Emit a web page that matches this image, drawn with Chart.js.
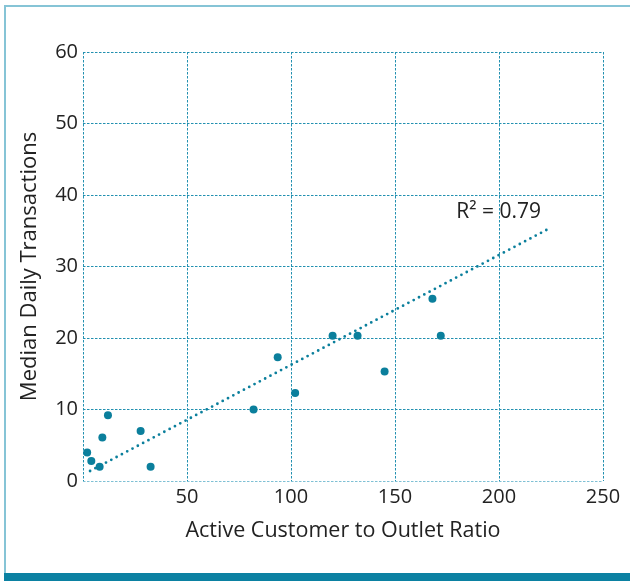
<!DOCTYPE html>
<html>
<head>
<meta charset="utf-8">
<script src="https://cdn.jsdelivr.net/npm/chart.js@4.4.1/dist/chart.umd.min.js"></script>
<style>
  html, body { margin: 0; padding: 0; background: #ffffff; }
  #wrap { width: 630px; height: 581px; position: relative; }
  canvas { display: block; }
</style>
</head>
<body>
<div id="wrap"><canvas id="c" width="630" height="581"></canvas></div>
<script>
// ---- data ----
const ratio        = [2, 4, 8, 9.3, 12, 27.7, 32.5, 82, 93.6, 102, 120, 132, 145, 168, 172];
const transactions = [4, 2.8, 2, 6.1, 9.2, 7, 2, 10, 17.3, 12.3, 20.3, 20.3, 15.3, 25.5, 20.3];
const trendX = [3.4, 224];
const trendY = [1.4, 35.3];
const r2Text = 'R\u00B2 = 0.79';
const r2Anchor = [179.5, 37.6];
const xTitle = 'Active Customer to Outlet Ratio';
const yTitle = 'Median Daily Transactions';
const xRange = [0, 250, 50];
const yRange = [0, 60, 10];

const teal = '#0b7f9c';
const gridColor = '#2290b0';
const fontFamily = '"Open Sans", "Noto Sans", sans-serif';
const textColor = '#222222';

const framePlugin = {
  id: 'frame',
  beforeDraw(chart) {
    const ctx = chart.ctx;
    ctx.save();
    ctx.fillStyle = '#ffffff';
    ctx.fillRect(0, 0, chart.width, chart.height);
    ctx.fillStyle = '#86c4d6';
    ctx.fillRect(4, 5, 2, chart.height - 13);
    ctx.fillRect(4, 5, chart.width - 4, 2);
    ctx.fillStyle = '#0b81a2';
    ctx.fillRect(4, chart.height - 8, chart.width - 4, 8);
    ctx.restore();
  },
  afterDatasetsDraw(chart) {
    const ctx = chart.ctx;
    const xs = chart.scales.x, ys = chart.scales.y;
    ctx.save();
    ctx.font = '21px ' + fontFamily;
    ctx.fillStyle = textColor;
    ctx.textAlign = 'left';
    ctx.textBaseline = 'middle';
    ctx.fillText(r2Text, xs.getPixelForValue(r2Anchor[0]), ys.getPixelForValue(r2Anchor[1]));
    ctx.restore();
  }
};

new Chart(document.getElementById('c'), {
  type: 'scatter',
  data: {
    datasets: [
      {
        label: 'Outlets',
        data: ratio.map((x, i) => ({ x: x, y: transactions[i] })),
        backgroundColor: teal,
        borderColor: teal,
        pointRadius: 4,
        pointHoverRadius: 4,
        borderWidth: 0
      },
      {
        type: 'line',
        label: 'Trend',
        data: trendX.map((x, i) => ({ x: x, y: trendY[i] })),
        borderColor: teal,
        borderWidth: 2.8,
        borderCapStyle: 'round',
        borderDash: [0, 6],
        pointRadius: 0,
        fill: false,
        tension: 0
      }
    ]
  },
  options: {
    responsive: false,
    animation: false,
    devicePixelRatio: 1,
    layout: { padding: { left: 0, top: 52, right: 27, bottom: 0 } },
    plugins: { legend: { display: false }, tooltip: { enabled: false } },
    scales: {
      x: {
        type: 'linear',
        min: xRange[0], max: xRange[1],
        afterFit(s) { s.height = 100; },
        ticks: {
          stepSize: xRange[2],
          padding: 4,
          color: textColor,
          font: { family: fontFamily, size: 20 },
          callback: (v) => v === 0 ? '' : String(v)
        },
        grid: { color: gridColor, lineWidth: 1, drawTicks: false },
        border: { display: false, dash: [2.5, 1.5] },
        title: {
          display: true, text: xTitle, color: textColor,
          font: { family: fontFamily, size: 21.5 },
          padding: { top: 0, bottom: 37 }
        }
      },
      y: {
        type: 'linear',
        min: yRange[0], max: yRange[1],
        afterFit(s) { s.width = 83; },
        ticks: {
          stepSize: yRange[2],
          padding: 5,
          color: textColor,
          font: { family: fontFamily, size: 20 }
        },
        grid: {
          color: (c) => (c.tick && c.tick.value === 0) ? '#7fc0d4' : gridColor,
          lineWidth: 1, drawTicks: false
        },
        border: { display: false, dash: [2.5, 1.5] },
        title: {
          display: true, text: yTitle, color: textColor,
          font: { family: fontFamily, size: 22 },
          padding: { top: 17, bottom: 0 }
        }
      }
    }
  },
  plugins: [framePlugin]
});
</script>
</body>
</html>
